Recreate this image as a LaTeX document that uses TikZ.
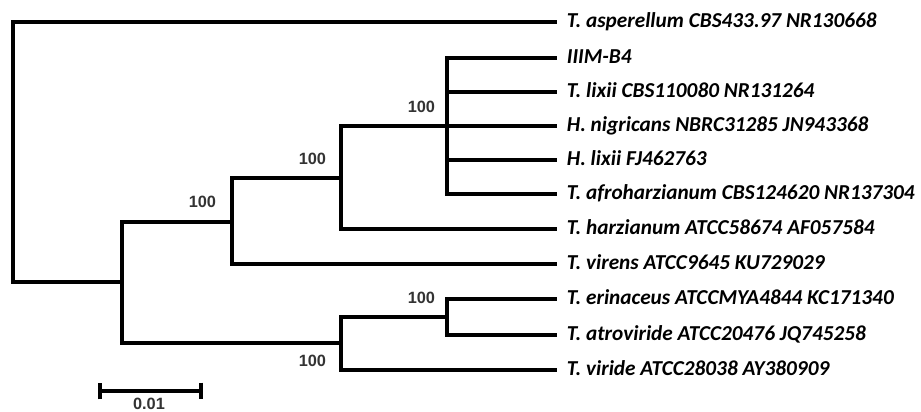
\documentclass[tikz,border=0pt]{standalone}
\usepackage{fontspec}
\setmainfont{Carlito}
\newfontfamily\bootfont{Liberation Sans}
\usetikzlibrary{arrows.meta}

\begin{document}
\begin{tikzpicture}[x=0.02cm, y=-0.02cm, line width=2.2pt, line join=miter,
  leaf/.style={font=\bfseries\itshape\fontsize{12.1}{14}\selectfont, text=black, anchor=base west, inner sep=0pt, xshift=4.5pt, yshift=-3pt},
  boot/.style={font=\bootfont\bfseries\fontsize{9.3}{11}\selectfont, text=black!80, inner sep=0pt, anchor=south east}]
\useasboundingbox (0,0) rectangle (921,412);
% inner nodes
\coordinate (root) at (13,152);
\coordinate (nA) at (447,126);
\coordinate (nB) at (341,178);
\coordinate (nC) at (232,222);
\coordinate (nD) at (447,317);
\coordinate (nE) at (341,343);
\coordinate (nF) at (122,282);
% leaf tips
\coordinate (tAsp) at (557,22);
\coordinate (tB4) at (557,58);
\coordinate (tLix) at (557,92);
\coordinate (tNig) at (557,126);
\coordinate (tHlx) at (557,160);
\coordinate (tAfr) at (557,194);
\coordinate (tHar) at (557,229);
\coordinate (tVir) at (557,264);
\coordinate (tEri) at (557,299);
\coordinate (tAtr) at (557,335);
\coordinate (tVid) at (557,370);
% leaf names
\node[leaf] (lAsp) at (tAsp) {T. asperellum CBS433.97 NR130668};
\node[leaf] (lB4) at (tB4) {IIIM-B4};
\node[leaf] (lLix) at (tLix) {T. lixii CBS110080 NR131264};
\node[leaf] (lNig) at (tNig) {H. nigricans NBRC31285 JN943368};
\node[leaf] (lHlx) at (tHlx) {H. lixii FJ462763};
\node[leaf] (lAfr) at (tAfr) {T. afroharzianum CBS124620 NR137304};
\node[leaf] (lHar) at (tHar) {T. harzianum ATCC58674 AF057584};
\node[leaf] (lVir) at (tVir) {T. virens ATCC9645 KU729029};
\node[leaf] (lEri) at (tEri) {T. erinaceus ATCCMYA4844 KC171340};
\node[leaf] (lAtr) at (tAtr) {T. atroviride ATCC20476 JQ745258};
\node[leaf] (lVid) at (tVid) {T. viride ATCC28038 AY380909};
% branches
\draw (root) |- (tAsp);
\draw (root) |- (nF);
\draw (nF) |- (nC);
\draw (nF) |- (nE);
\draw (nC) |- (nB);
\draw (nC) |- (tVir);
\draw (nB) |- (nA);
\draw (nB) |- (tHar);
\draw (nA) |- (tB4);
\draw (nA) |- (tLix);
\draw (nA) -- (tNig);
\draw (nA) |- (tHlx);
\draw (nA) |- (tAfr);
\draw (nE) |- (nD);
\draw (nE) |- (tVid);
\draw (nD) |- (tEri);
\draw (nD) |- (tAtr);
% bootstrap values
\node[boot] (bA) at ([shift={(-10,-11)}]nA) {100};
\node[boot] (bB) at ([shift={(-13,-11)}]nB) {100};
\node[boot] (bC) at ([shift={(-14,-12)}]nC) {100};
\node[boot] (bD) at ([shift={(-10,-11)}]nD) {100};
\node[boot, anchor=north east] (bE) at ([shift={(-13,10)}]nE) {100};
% scale bar
\coordinate (sbl) at (98,391);
\coordinate (sbr) at (203,391);
\draw[{Bar[width=0.34cm]}-{Bar[width=0.34cm]}] (sbl) -- (sbr);
\node[font=\bootfont\bfseries\fontsize{9.3}{11}\selectfont, text=black!80, inner sep=0pt, anchor=north] (sbtxt) at (149,396) {0.01};
\end{tikzpicture}
\end{document}
